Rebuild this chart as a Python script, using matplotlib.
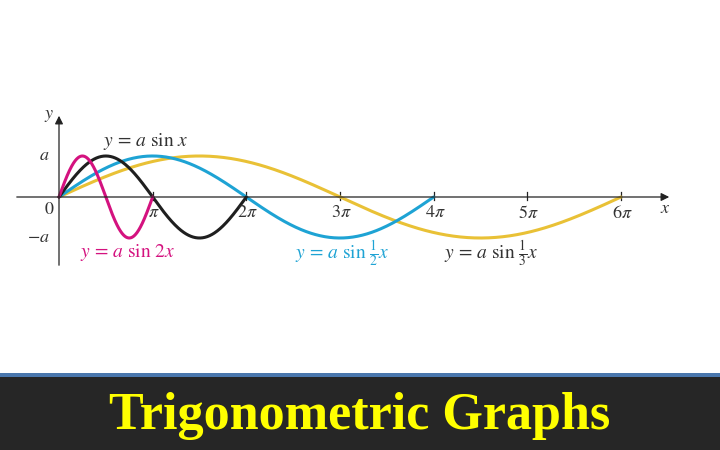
import numpy as np
import matplotlib.pyplot as plt
from matplotlib.patches import Rectangle

# curves: y = a sin(k x), drawn over one full period
labels = ["y = a sin 2x", "y = a sin x", "y = a sin ½x", "y = a sin ⅓x"]
freqs = [2.0, 1.0, 0.5, 1.0 / 3.0]
x_end = [np.pi, 2 * np.pi, 4 * np.pi, 6 * np.pi]
colors = ["#d4127f", "#1f1f1f", "#1ea3d4", "#e9c136"]
amp = 1.0

tick_pos = [np.pi * k for k in range(1, 7)]
tick_labels = [r"$\pi$", r"$2\pi$", r"$3\pi$", r"$4\pi$", r"$5\pi$", r"$6\pi$"]

plt.rcParams["mathtext.fontset"] = "stix"
plt.rcParams["font.family"] = "STIXGeneral"

fig = plt.figure(figsize=(7.2, 4.5), dpi=100)
ax = fig.add_axes([0, 0, 1, 1])
s = 562 / (6 * np.pi)      # px per unit along x
sy = 41                    # px per unit along y
ax.set_xlim(-59 / s, (720 - 59) / s)
ax.set_ylim(-(450 - 197) / sy, 197 / sy)
ax.axis("off")

# curves (draw back to front: yellow, blue, black, magenta)
for k, xe, c in list(zip(freqs, x_end, colors))[::-1]:
    xx = np.linspace(0, xe, 400)
    ax.plot(xx, amp * np.sin(k * xx), color=c, lw=2.2, solid_capstyle="round", zorder=3)

# axes with arrows
ax.annotate("", xy=(613 / s, 0), xytext=(-45 / s, 0),
            arrowprops=dict(arrowstyle="-|>", color="#222", lw=0.9, mutation_scale=12))
ax.annotate("", xy=(0, 84 / sy), xytext=(0, -71 / sy),
            arrowprops=dict(arrowstyle="-|>", color="#222", lw=0.9, mutation_scale=12))
for t in tick_pos:
    ax.plot([t, t], [-0.07, 0.12], color="#222", lw=0.9, zorder=2)
for t, lab in zip(tick_pos, tick_labels):
    ax.text(t + 0.05, -0.2, lab, ha="center", va="top", fontsize=13, color="#333")

ax.text(-0.2, -0.12, "0", ha="right", va="top", fontsize=13, color="#333")
ax.text(-0.3, amp, r"$a$", ha="right", va="center", fontsize=13, color="#333")
ax.text(-0.3, -amp, r"$-a$", ha="right", va="center", fontsize=13, color="#333")
ax.text(-0.15, 81 / sy, r"$y$", ha="right", va="center", fontsize=13, color="#333")
ax.text(606 / s, -0.3, r"$x$", ha="center", va="center", fontsize=13, color="#333")

ax.text(2.9, 1.35, r"$y\,=\,a\ \sin\,x$", ha="center", va="center", fontsize=14, color="#333")
ax.text(2.3, -1.35, r"$y\,=\,a\ \sin\,2x$", ha="center", va="center", fontsize=14, color=colors[0])
ax.text(9.5, -1.37, r"$y\,=\,a\ \sin\,\frac{1}{2}x$", ha="center", va="center", fontsize=14, color=colors[2])
ax.text(14.5, -1.37, r"$y\,=\,a\ \sin\,\frac{1}{3}x$", ha="center", va="center", fontsize=14, color="#333")

# title band
fig.patches.append(Rectangle((0, 0), 1, 1 - 377 / 450, transform=fig.transFigure,
                             facecolor="#262626", edgecolor="none", zorder=0))
fig.patches.append(Rectangle((0, 1 - 377 / 450), 1, 4 / 450, transform=fig.transFigure,
                             facecolor="#4a77ad", edgecolor="none", zorder=0))
fig.text(0.5, 1 - 416 / 450, "Trigonometric Graphs", ha="center", va="center",
         fontsize=37.5, fontweight="bold", color="#ffff00", family="Liberation Serif")

fig.savefig("out.png", dpi=100)
